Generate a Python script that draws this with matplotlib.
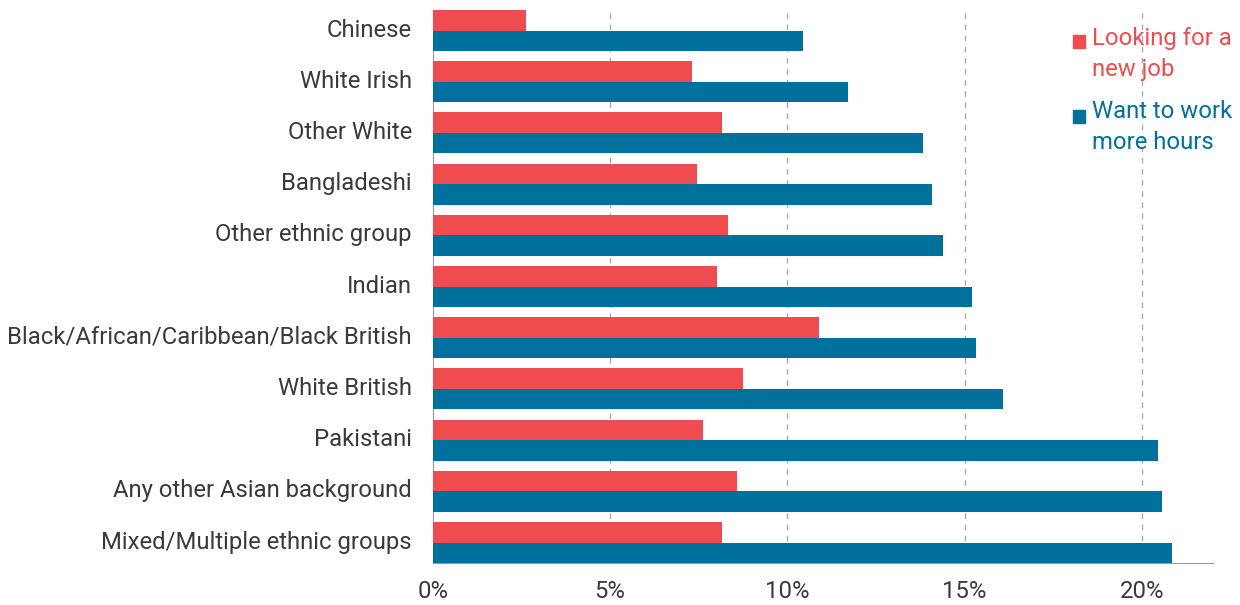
import numpy as np
import matplotlib as mpl
mpl.use('Agg')
import matplotlib.pyplot as plt
from matplotlib.transforms import ScaledTranslation

groups = ['Chinese', 'White Irish', 'Other White', 'Bangladeshi', 'Other ethnic group', 'Indian',
          'Black/African/Caribbean/Black British', 'White British', 'Pakistani',
          'Any other Asian background', 'Mixed/Multiple ethnic groups']
new_job = [2.62, 7.32, 8.17, 7.46, 8.34, 8.03, 10.90, 8.76, 7.61, 8.59, 8.17]
more_hours = [10.45, 11.72, 13.83, 14.08, 14.39, 15.21, 15.32, 16.08, 20.45, 20.56, 20.85]
xticks = [0, 5, 10, 15, 20]

red = '#EF4C4F'
blue = '#00709C'
txt = '#3a3a3a'

plt.rcParams['font.family'] = ['Roboto', 'DejaVu Sans']

fig = plt.figure(figsize=(12.4, 6.05), dpi=100)
ax = fig.add_axes([0.349, 0.0694, 0.629, 0.914])

y = np.arange(len(groups))
h = 0.4
ax.barh(y - h / 2, new_job, height=h, color=red, zorder=3)
ax.barh(y + h / 2, more_hours, height=h, color=blue, zorder=3)

ax.set_ylim(len(groups) - 1 + 0.4, -0.4)
ax.set_xlim(0, 22)
ax.set_yticks(y)
ax.set_yticklabels(groups, fontsize=17.2, color=txt)
ax.set_xticks(xticks)
ax.set_xticklabels([f'{t}%' for t in xticks], fontsize=17.2, color=txt)
ax.tick_params(axis='y', length=0, pad=15)
ax.tick_params(axis='x', length=0, pad=12)
shift = ScaledTranslation(0, 3 / 100, fig.dpi_scale_trans)
for lab in ax.get_yticklabels():
    lab.set_transform(lab.get_transform() + shift)

for t in xticks[1:]:
    ax.axvline(t, color='#AAAAAA', lw=1, ls=(0, (4, 4)), zorder=1)

for s in ['top', 'right']:
    ax.spines[s].set_visible(False)
ax.spines['left'].set_color('#999999')
ax.spines['bottom'].set_color('#999999')

# legend
fig.patches.append(mpl.patches.Rectangle((1073 / 1240, 1 - 48 / 605), 12 / 1240, 13 / 605,
                                         transform=fig.transFigure, color=red))
fig.patches.append(mpl.patches.Rectangle((1073 / 1240, 1 - 123 / 605), 12 / 1240, 13 / 605,
                                         transform=fig.transFigure, color=blue))
fig.text(1092 / 1240, 1 - 27 / 605, 'Looking for a\nnew job', color=red, fontsize=17.2,
         va='top', ha='left', linespacing=1.42)
fig.text(1092 / 1240, 1 - 100 / 605, 'Want to work\nmore hours', color=blue, fontsize=17.2,
         va='top', ha='left', linespacing=1.42)

fig.savefig('out.png', dpi=100)
